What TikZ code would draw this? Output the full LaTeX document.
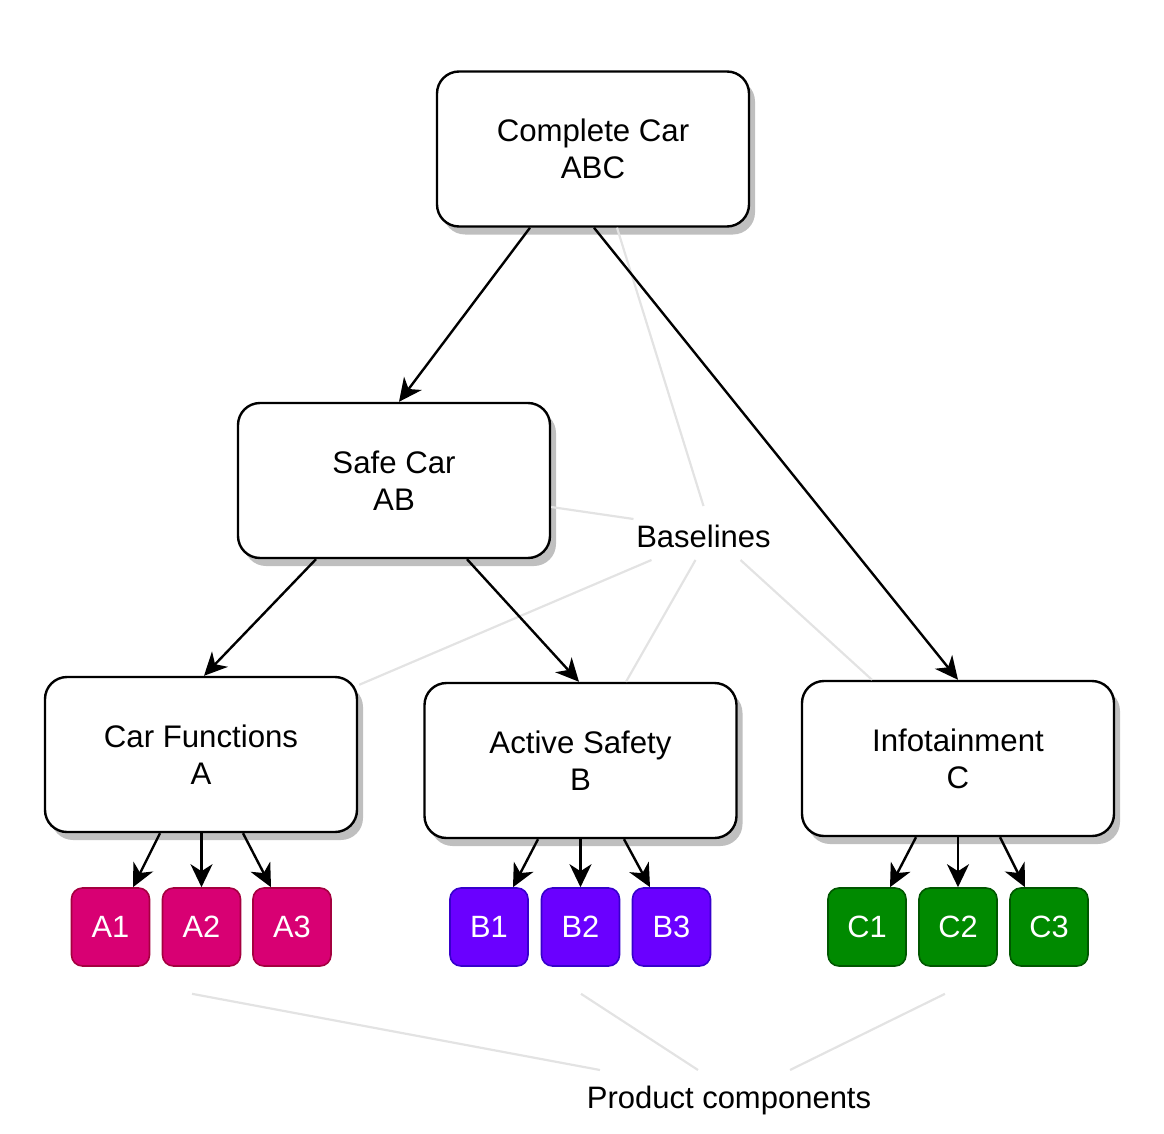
\documentclass[tikz,border=0pt]{standalone}
\usepackage{fontspec}
\setmainfont{Liberation Sans}
\usetikzlibrary{arrows.meta,shadows,calc}
\definecolor{aFill}{HTML}{D80073}\definecolor{aLine}{HTML}{A50040}
\definecolor{bFill}{HTML}{6A00FF}\definecolor{bLine}{HTML}{3700CC}
\definecolor{cFill}{HTML}{008A00}\definecolor{cLine}{HTML}{005700}
\definecolor{faint}{HTML}{E3E3E3}
\begin{document}
\begin{tikzpicture}[x=1pt,y=-1pt,
  bigbox/.style={draw=black, line width=2.4pt, fill=white, rounded corners=22pt,
    minimum width=312pt, minimum height=155pt, align=center, inner sep=0pt,
    font=\fontsize{31.2}{37}\selectfont,
    drop shadow={shadow xshift=6pt, shadow yshift=-8pt, fill=black!25, opacity=1}},
  part/.style={line width=1.6pt, rounded corners=11pt, minimum width=78pt, minimum height=78pt,
    inner sep=0pt, text=white, font=\fontsize{30.8}{36}\selectfont},
  pa/.style={part, draw=aLine, fill=aFill},
  pb/.style={part, draw=bLine, fill=bFill},
  pc/.style={part, draw=cLine, fill=cFill},
  link/.style={line width=2.4pt, -{Stealth[length=23pt,width=22pt,inset=7pt]}},
  note/.style={draw=faint, line width=2.2pt},
  lbl/.style={font=\fontsize{31}{37}\selectfont, inner sep=0pt, anchor=base}
]
\useasboundingbox (0,0) rectangle (1164,1134);

\node[bigbox] (cc) at (593,149) {Complete Car\\ABC};
\node[bigbox] (sc) at (394,480.5) {Safe Car\\AB};
\node[bigbox] (cf) at (201,754.5) {Car Functions\\A};
\node[bigbox] (as) at (580.5,760.5) {Active Safety\\B};
\node[bigbox] (inf) at (958,758.5) {Infotainment\\C};

\node[pa] (A1) at (110.5,927) {A1};
\node[pa] (A2) at (201.5,927) {A2};
\node[pa] (A3) at (292,927) {A3};
\node[pb] (B1) at (489,927) {B1};
\node[pb] (B2) at (580.5,927) {B2};
\node[pb] (B3) at (671.5,927) {B3};
\node[pc] (C1) at (867,927) {C1};
\node[pc] (C2) at (958,927) {C2};
\node[pc] (C3) at (1049,927) {C3};

\node[lbl] (bl) at (703.5,547) {Baselines};
\node[lbl] (pcl) at (729,1108) {Product components};

% faint annotation lines
\draw[note] ($(bl.base)+(0,-41)$) -- ($(cc.south)+(24,0)$);
\draw[note] ($(bl.base)+(-70,-28)$) -- ($(sc.east)+(0,26.5)$);
\draw[note] ($(bl.base)+(-52,13)$) -- ($(cf.north east)+(1,9)$);
\draw[note] ($(bl.base)+(-8,13)$) -- ($(as.north)+(45.5,0)$);
\draw[note] ($(bl.base)+(37,13)$) -- ($(inf.north)+(-86,0)$);
\draw[note] ($(pcl.base)+(-129,-38)$) -- ($(A2.south)+(-9.5,27)$);
\draw[note] ($(pcl.base)+(-31,-38)$) -- ($(B2.south)+(0.5,27)$);
\draw[note] ($(pcl.base)+(61,-38)$) -- ($(C2.south)+(-13,27)$);

% hierarchy arrows
\draw[link] ($(cc.south)+(-63,0)$) -- ($(sc.north)+(5,0)$);
\draw[link] ($(cc.south)+(1,0)$) -- (inf.north);
\draw[link] ($(sc.south)+(-78,0)$) -- ($(cf.north)+(3,0)$);
\draw[link] ($(sc.south)+(73,0)$) -- ($(as.north)+(-1.5,0)$);

\draw[link] ($(cf.south)+(-41,0)$) -- ($(A1.north)+(22.5,0)$);
\draw[link] ($(cf.south)+(0.5,0)$) -- (A2.north);
\draw[link] ($(cf.south)+(42,0)$) -- ($(A3.north)+(-21,0)$);
\draw[link] ($(as.south)+(-42.5,0)$) -- ($(B1.north)+(24,0)$);
\draw[link] (as.south) -- (B2.north);
\draw[link] ($(as.south)+(43.5,0)$) -- ($(B3.north)+(-21.5,0)$);
\draw[link] ($(inf.south)+(-42,0)$) -- ($(C1.north)+(23,0)$);
\draw[link] (inf.south) -- (C2.north);
\draw[link] ($(inf.south)+(42,0)$) -- ($(C3.north)+(-24,0)$);
\end{tikzpicture}
\end{document}
